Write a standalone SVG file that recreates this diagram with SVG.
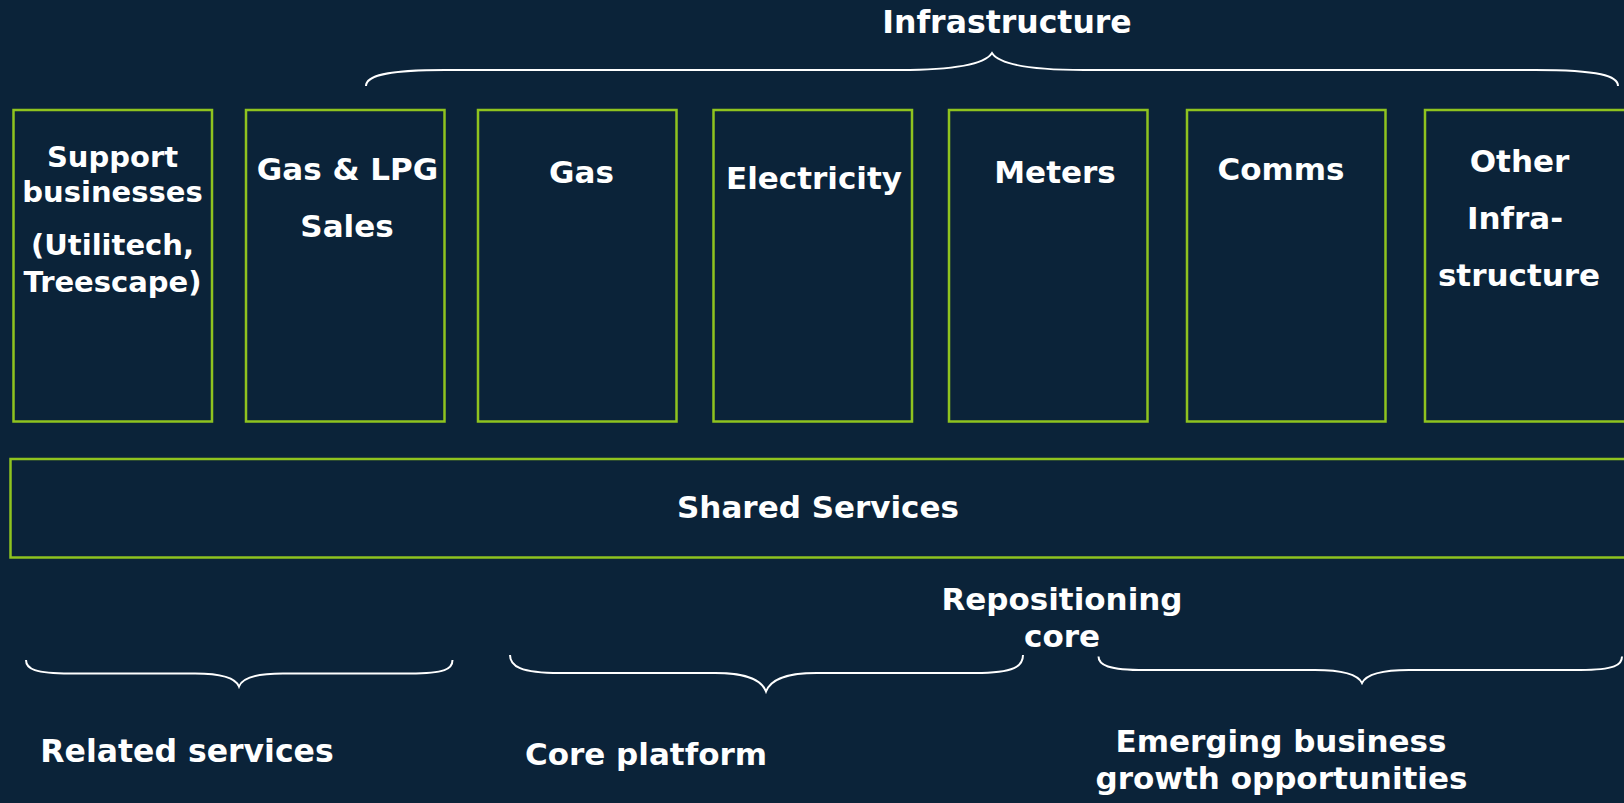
<svg xmlns="http://www.w3.org/2000/svg" width="1624" height="803" viewBox="0 0 1624 803">
<style>
.bg{fill:#0b2339}
.box{fill:none;stroke:#8fc31f;stroke-width:2.5}
.t{font-family:"DejaVu Sans",Verdana,sans-serif;font-weight:bold;fill:#ffffff;font-size:31px;text-anchor:middle}
.s{font-size:29px}
.brace{fill:none;stroke:#ffffff;stroke-width:2}
</style>
<rect class="bg" x="0" y="0" width="1624" height="803"/>
<g id="infrastructure-label"><text class="t" x="1007" y="33" style="font-size:31.5px">Infrastructure</text></g>
<g id="support"><rect class="box" x="13.5" y="110" width="198.5" height="311.5"/>
<text class="t s" x="112.5" y="167">Support</text><text class="t s" x="112.5" y="202">businesses</text><text class="t s" x="112.5" y="255">(Utilitech,</text><text class="t s" x="112.5" y="291.5">Treescape)</text></g>
<g id="gaslpg"><rect class="box" x="246" y="110" width="198.5" height="311.5"/>
<text class="t" x="347.5" y="180">Gas &amp; LPG</text><text class="t" x="347" y="236.5">Sales</text></g>
<g id="gas"><rect class="box" x="478" y="110" width="198.5" height="311.5"/>
<text class="t" x="581.5" y="182.5">Gas</text></g>
<g id="electricity"><rect class="box" x="713.5" y="110" width="198.5" height="311.5"/>
<text class="t" x="814" y="189">Electricity</text></g>
<g id="meters"><rect class="box" x="949" y="110" width="198.5" height="311.5"/>
<text class="t" x="1055" y="182.5">Meters</text></g>
<g id="comms"><rect class="box" x="1187" y="110" width="198.5" height="311.5"/>
<text class="t" x="1281" y="180">Comms</text></g>
<g id="other"><rect class="box" x="1425" y="110" width="210" height="311.5"/>
<text class="t" x="1519.5" y="171.5">Other</text><text class="t" x="1515" y="228.5">Infra-</text><text class="t" x="1519" y="286">structure</text></g>
<g id="shared"><rect class="box" x="10.5" y="459" width="1630" height="98.5"/>
<text class="t" x="818" y="518">Shared Services</text></g>
<g id="connectors">
<path class="brace" d="M366 86 C366 76 385 70 445 70 L900 70 C955 70 985 64 992 53 C999 64 1029 70 1084 70 L1535 70 C1600 70 1618 76 1618 86"/>
<path class="brace" d="M26 660 C26 669 35 673.5 70 673.5 L195 673.5 C225 673.5 236 679 239 686.5 C242 679 253 673.5 283 673.5 L410 673.5 C445 673.5 452.5 669 452.5 660"/>
<path class="brace" d="M510 655 C510 666 520 673 560 673 L715 673 C750 673 762 681 766 691.5 C770 681 782 673 817 673 L975 673 C1015 673 1023 666 1023 655"/>
<path class="brace" d="M1098.5 656.5 C1098.5 665 1108 670 1145 670 L1315 670 C1345 670 1358 675 1362 683 C1366 675 1379 670 1409 670 L1580 670 C1615 670 1622 665 1622 656.5"/>
</g>
<g id="related"><text class="t" x="187" y="762" style="font-size:31.5px">Related services</text></g>
<g id="core"><text class="t" x="646" y="765">Core platform</text></g>
<g id="repositioning"><text class="t" x="1062" y="610">Repositioning</text><text class="t" x="1062" y="646.5">core</text></g>
<g id="emerging"><text class="t" x="1281" y="752">Emerging business</text><text class="t" x="1281.5" y="789">growth opportunities</text></g>
</svg>
